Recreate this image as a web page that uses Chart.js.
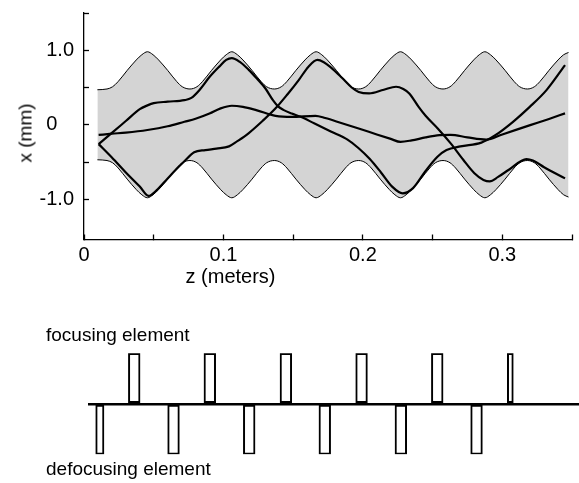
<!DOCTYPE html>
<html>
<head>
<meta charset="utf-8">
<title>Beam envelope in a FODO lattice</title>
<script src="https://cdn.jsdelivr.net/npm/chart.js@4.4.1/dist/chart.umd.min.js"></script>
<style>
  body { margin: 0; background: #fff; }
  #wrap { position: relative; width: 579px; height: 483px; overflow: hidden;
          font-family: "Liberation Sans", Arial, Helvetica, sans-serif; color: #000; }
  canvas { position: absolute; left: 0; }
  #beamChart { top: 0; }
  #latticeChart { top: 340px; }
  .lbl { position: absolute; white-space: nowrap; line-height: 1; }
  #yTitle { left: 25px; top: 132.5px; font-size: 19px; transform: translate(-50%, -50%) rotate(-90deg); }
  #xTitle { left: 230.5px; top: 266px; font-size: 20px; transform: translateX(-50%); }
  #focLabel { left: 46px; top: 325px; font-size: 19px; }
  #defocLabel { left: 46px; top: 459px; font-size: 19px; }
</style>
</head>
<body>
<div id="wrap">
  <canvas id="beamChart" width="579" height="300"></canvas>
  <canvas id="latticeChart" width="579" height="130"></canvas>
  <div class="lbl" id="yTitle">x (mm)</div>
  <div class="lbl" id="xTitle">z (meters)</div>
  <div class="lbl" id="focLabel">focusing element</div>
  <div class="lbl" id="defocLabel">defocusing element</div>
</div>
<script>
// beam envelope (mm) vs z (m)
const envZ = [
  0.0096, 0.0165, 0.0205, 0.0245, 0.031, 0.0375, 0.0415, 0.0455, 0.0495, 0.0535, 0.060, 0.0665, 0.0705, 0.076,
  0.081, 0.085, 0.0915, 0.098, 0.102, 0.106, 0.110, 0.114, 0.1205, 0.127, 0.131, 0.1365,
  0.1415, 0.1455, 0.152, 0.1585, 0.1625, 0.1665, 0.1705, 0.1745, 0.181, 0.1875, 0.1915, 0.197,
  0.202, 0.206, 0.2125, 0.219, 0.223, 0.227, 0.231, 0.235, 0.2415, 0.248, 0.252, 0.2575,
  0.2625, 0.2665, 0.273, 0.2795, 0.2835, 0.2875, 0.2915, 0.2955, 0.302, 0.3085, 0.3125, 0.318,
  0.323, 0.327, 0.3335, 0.340, 0.344, 0.3475
];
const envUpper = [
  0.47, 0.48, 0.51, 0.58, 0.73, 0.87, 0.94, 0.98, 0.94, 0.87, 0.73, 0.58, 0.51, 0.48,
  0.51, 0.58, 0.73, 0.87, 0.94, 0.98, 0.94, 0.87, 0.73, 0.58, 0.51, 0.48,
  0.51, 0.58, 0.73, 0.87, 0.94, 0.98, 0.94, 0.87, 0.73, 0.58, 0.51, 0.48,
  0.51, 0.58, 0.73, 0.87, 0.94, 0.98, 0.94, 0.87, 0.73, 0.58, 0.51, 0.48,
  0.51, 0.58, 0.73, 0.87, 0.94, 0.98, 0.94, 0.87, 0.73, 0.58, 0.51, 0.48,
  0.51, 0.58, 0.73, 0.87, 0.94, 0.97
];
const envLower = [
  -0.47, -0.48, -0.51, -0.58, -0.73, -0.87, -0.94, -0.98, -0.94, -0.87, -0.73, -0.58, -0.51, -0.48,
  -0.51, -0.58, -0.73, -0.87, -0.94, -0.98, -0.94, -0.87, -0.73, -0.58, -0.51, -0.48,
  -0.51, -0.58, -0.73, -0.87, -0.94, -0.98, -0.94, -0.87, -0.73, -0.58, -0.51, -0.48,
  -0.51, -0.58, -0.73, -0.87, -0.94, -0.98, -0.94, -0.87, -0.73, -0.58, -0.51, -0.48,
  -0.51, -0.58, -0.73, -0.87, -0.94, -0.98, -0.94, -0.87, -0.73, -0.58, -0.51, -0.48,
  -0.51, -0.58, -0.73, -0.87, -0.94, -0.97
];

// three particle trajectories
const zA = [0.0105, 0.02, 0.03, 0.04, 0.0455, 0.05, 0.06, 0.072, 0.077, 0.083, 0.09, 0.097, 0.102, 0.106,
  0.112, 0.118, 0.124, 0.13, 0.1355, 0.139, 0.143, 0.149, 0.155, 0.165, 0.177, 0.189, 0.197, 0.205, 0.213,
  0.221, 0.2286, 0.236, 0.245, 0.2535, 0.26, 0.27, 0.285, 0.295, 0.3077, 0.3197, 0.3317, 0.345];
const xA = [-0.26, -0.11, 0.05, 0.21, 0.26, 0.29, 0.31, 0.33, 0.36, 0.47, 0.64, 0.78, 0.87, 0.895,
  0.84, 0.74, 0.62, 0.49, 0.33, 0.25, 0.2, 0.15, 0.11, 0.02, -0.09, -0.2, -0.315, -0.46, -0.64,
  -0.83, -0.92, -0.85, -0.62, -0.43, -0.34, -0.29, -0.24, -0.14, 0.04, 0.24, 0.465, 0.80];

const zB = [0.0105, 0.02, 0.03, 0.04, 0.0463, 0.052, 0.06, 0.066, 0.072, 0.079, 0.087, 0.095, 0.104, 0.11,
  0.118, 0.128, 0.1374, 0.146, 0.154, 0.161, 0.1674, 0.172, 0.177, 0.185, 0.192, 0.197, 0.2045, 0.215,
  0.2238, 0.229, 0.2333, 0.24, 0.245, 0.2537, 0.263, 0.272, 0.28, 0.2865, 0.291, 0.297, 0.305, 0.3173,
  0.322, 0.33, 0.345];
const xB = [-0.26, -0.44, -0.64, -0.83, -0.955, -0.88, -0.72, -0.60, -0.49, -0.37, -0.34, -0.32, -0.29, -0.22,
  -0.115, 0.05, 0.22, 0.41, 0.60, 0.78, 0.87, 0.84, 0.77, 0.63, 0.50, 0.44, 0.42, 0.47,
  0.51, 0.48, 0.42, 0.24, 0.12, -0.05, -0.25, -0.47, -0.65, -0.74, -0.76, -0.70, -0.6, -0.46,
  -0.48, -0.57, -0.72];

const zC = [0.0105, 0.02, 0.03, 0.0455, 0.06, 0.072, 0.08, 0.09, 0.098, 0.106, 0.114, 0.1235, 0.1374, 0.149,
  0.166, 0.173, 0.185, 0.197, 0.21, 0.22, 0.227, 0.235, 0.245, 0.255, 0.263, 0.275, 0.2885, 0.3, 0.32,
  0.333, 0.345];
const xC = [-0.137, -0.12, -0.105, -0.07, -0.02, 0.04, 0.08, 0.15, 0.22, 0.255, 0.24, 0.197, 0.12, 0.105,
  0.12, 0.09, 0.02, -0.05, -0.13, -0.19, -0.23, -0.21, -0.17, -0.14, -0.135, -0.17, -0.2, -0.13, -0.005,
  0.075, 0.153];

// axis ticks
const xTickValues = [0, 0.05, 0.1, 0.15, 0.2, 0.25, 0.3, 0.35];
const xTickLabels = ['0', '', '0.1', '', '0.2', '', '0.3', ''];
const yTickValues = [-1, -0.5, 0, 0.5, 1, 1.5];
const yTickLabels = ['-1.0', '', '0', '', '1.0', ''];

// lattice elements (position along the diagram, kick sign)
const focusZ = [0.0455, 0.1059, 0.1667, 0.2272, 0.2877, 0.3461];
const focusKick = [1, 1, 1, 1, 1, 1];
const defocusZ = [0.018, 0.0769, 0.1374, 0.1978, 0.2586, 0.3191];
const defocusKick = [-1, -1, -1, -1, -1, -1];

function points(zs, vs) {
  return zs.map((z, i) => ({ x: z, y: vs[i] }));
}

Chart.defaults.font.family = '"Liberation Sans", Arial, Helvetica, sans-serif';
Chart.defaults.font.size = 20;
Chart.defaults.color = '#000';

const curve = { pointRadius: 0, cubicInterpolationMode: 'monotone', borderColor: '#000', fill: false };

new Chart(document.getElementById('beamChart'), {
  type: 'line',
  data: {
    datasets: [
      { label: 'envelope', data: points(envZ, envUpper), ...curve, borderWidth: 1, fill: '+1', backgroundColor: '#d4d4d4' },
      { label: 'envelope', data: points(envZ, envLower), ...curve, borderWidth: 1 },
      { label: 'particle 1', data: points(zA, xA), ...curve, borderWidth: 2.2 },
      { label: 'particle 2', data: points(zB, xB), ...curve, borderWidth: 2.2 },
      { label: 'particle 3', data: points(zC, xC), ...curve, borderWidth: 2.2 }
    ]
  },
  options: {
    responsive: false,
    animation: false,
    layout: { padding: { top: 13, right: 7, left: 0, bottom: 0 } },
    plugins: {
      legend: { display: false },
      tooltip: { enabled: false },
      filler: { drawTime: 'beforeDatasetsDraw' }
    },
    scales: {
      x: {
        type: 'linear', min: 0, max: 0.35,
        afterBuildTicks: s => { s.ticks = xTickValues.map(v => ({ value: v })); },
        afterFit: s => { s.height = 60.5; s.paddingLeft = 0; s.paddingRight = 0; },
        ticks: { callback: (v, i) => xTickLabels[i], padding: 8.5, maxRotation: 0, autoSkip: false },
        grid: { drawOnChartArea: false, tickLength: -5, tickColor: '#000', tickWidth: 1.3 },
        border: { color: '#000', width: 1.3 }
      },
      y: {
        type: 'linear', min: -1.54, max: 1.5,
        afterBuildTicks: s => { s.ticks = yTickValues.map(v => ({ value: v })); },
        afterFit: s => { s.width = 84; s.paddingTop = 0; s.paddingBottom = 0; },
        ticks: {
          // "0" sits on the decimal column of "1.0"
          callback: (v, i) => {
            const t = yTickLabels[i];
            return t && t.indexOf('.') < 0 ? t + '   ' : t;
          },
          padding: 15, autoSkip: false
        },
        grid: { drawOnChartArea: false, tickLength: -5, tickColor: '#000', tickWidth: 1.3 },
        border: { color: '#000', width: 1.3 }
      }
    }
  }
});

const box = { backgroundColor: '#fff', borderColor: '#000', borderWidth: 2, borderSkipped: false, grouped: false };

new Chart(document.getElementById('latticeChart'), {
  type: 'bar',
  data: {
    datasets: [
      { label: 'focusing element', data: points(focusZ.slice(0, 5), focusKick.slice(0, 5)), barThickness: 11.7, ...box },
      { label: 'focusing element', data: points(focusZ.slice(5), focusKick.slice(5)), barThickness: 6, ...box },
      { label: 'defocusing element', data: points(defocusZ.slice(0, 1), defocusKick.slice(0, 1)), barThickness: 8.3, ...box },
      { label: 'defocusing element', data: points(defocusZ.slice(1), defocusKick.slice(1)), barThickness: 11.7, ...box }
    ]
  },
  options: {
    responsive: false,
    animation: false,
    layout: { padding: { left: 87.7, right: 0, top: 13.3, bottom: 15.7 } },
    plugins: { legend: { display: false }, tooltip: { enabled: false } },
    scales: {
      x: { type: 'linear', min: 0.0083, max: 0.401, offset: false, display: false },
      y: {
        min: -1, max: 1,
        afterBuildTicks: s => { s.ticks = [{ value: 0 }]; },
        afterFit: s => { s.width = 0; },
        ticks: { display: false },
        grid: { drawTicks: false, color: '#000', lineWidth: 2.5 },
        border: { display: false }
      }
    }
  }
});
</script>
</body>
</html>
